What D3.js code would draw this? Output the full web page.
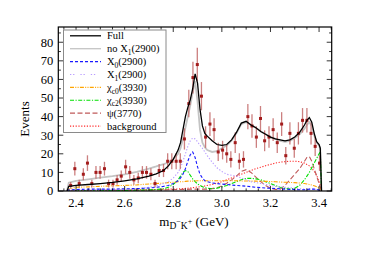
<!DOCTYPE html>
<html><head><meta charset="utf-8">
<script src="https://cdn.jsdelivr.net/npm/d3@7"></script>
<style>body{margin:0;background:#fff}svg{display:block}text{font-family:"Liberation Serif","Times New Roman",serif;fill:#000}</style>
</head><body><svg id="c" width="390" height="273"></svg>
<script>
const binMass = [2.378,2.395,2.413,2.430,2.447,2.465,2.482,2.499,2.517,2.534,2.552,2.569,2.586,2.604,2.621,2.638,2.656,2.673,2.690,2.708,2.725,2.742,2.760,2.777,2.794,2.812,2.829,2.846,2.864,2.881,2.899,2.916,2.933,2.951,2.968,2.985,3.003,3.020,3.037,3.055,3.072,3.089,3.107,3.124,3.142,3.159,3.176,3.194,3.211,3.228,3.246,3.263,3.280,3.298,3.315,3.332,3.350,3.367,3.384,3.402];
const counts = [3,12,4,9,15,4,10,10,12,4,4,6,8,13,10,6,7,10,10,9,4,11,11,16,16,16,16,28,47,61,68,51,29,36,33,21,22,20,17,26,16,17,40,35,29,39,27,29,33,26,36,19,31,23,31,38,38,31,24,15];
const errs = [1.8,3.7,2.1,3.2,4.2,2.1,3.4,3.4,3.7,2.1,2.1,2.6,3,3.8,3.4,2.6,2.8,3.4,3.4,3.2,2.1,3.5,3.5,4.3,4.3,4.3,4.3,5.7,7.4,8.5,9,7.6,5.8,6.4,6.1,4.9,5,4.8,4.4,5.5,4.3,4.4,6.8,6.3,5.8,6.7,5.6,5.8,6.1,5.5,6.4,4.7,6,5.1,6,6.6,6.6,6,5.2,4.2];

const curveMass = [2.363,2.37,2.40,2.45,2.50,2.55,2.60,2.65,2.70,2.73,2.76,2.78,2.80,2.82,2.83,2.84,2.85,2.86,2.87,2.88,2.89,2.90,2.91,2.92,2.93,2.94,2.96,2.98,3.00,3.02,3.04,3.06,3.08,3.10,3.12,3.14,3.16,3.18,3.20,3.22,3.24,3.26,3.28,3.30,3.32,3.34,3.35,3.36,3.37,3.38,3.39,3.40,3.405,3.41];
const fullFit = [0,2.5,3,3.5,4,4.6,5.5,6.5,8,9.2,11,13.5,17,22,26,33,40,45,49,55,63,58,44,35,31,29.5,27,25,24.5,25,27.5,31.5,36.5,37.5,35.5,34,32,30.5,29,28,27.5,27,27.5,29,31.5,35.5,38,39.5,37,31,26.5,25,23,0];
const noX1 = [0,4.5,5.5,6.3,7.2,8,9,10.3,12,13.2,14.5,15.3,17,20,23,28,34,40,46,53,59,48,33,26,23.5,22,21,21.5,23,24.5,27,31,36,37,35.5,34,32,30.5,29,28,27,26.5,27,28.5,30.5,33.5,35.5,37,35,30,26,24.5,22.5,0];
const x0_2900 = [0,0.6,0.8,1,1,1,1.2,1.3,1.6,2,2.5,3,4,5.5,7,9,12,16,19.5,21,18,13,9,7,5.5,5,4.3,4,3.7,3.5,3.2,3,2.8,2.6,2.3,2,1.8,1.6,1.5,1.3,1.2,1,0.9,0.8,0.7,0.7,0.8,1,1,1,0.8,0.5,0.3,0];
const x1_2900 = [0,0.3,0.3,0.4,0.5,0.6,0.8,1.2,2,2.8,4,5,7,10,12.5,16,20,24,27,28.5,28,26.5,24.5,23,21,19,15.5,12.5,10.5,9,8.5,8,7,6,5,4.5,4,3.5,3,2.5,2.2,2,1.8,1.5,1.2,1,1,1,1,1,0.8,0.5,0.3,0];
const chic0 = [0,1,2,2.2,2.5,2.8,3,3.3,3.8,4,4.3,4.5,4.7,5,5,5,5.2,5.3,5.3,5.3,5.4,5.5,5.5,5.5,5.5,5.5,5.5,5.5,5.5,5.5,5.5,5.5,5.4,5.4,5.3,5.3,5.2,5.2,5.1,5,4.8,4.7,4.6,4.5,4.3,4,3.8,3.5,3.2,2.8,2.3,1.5,1,0];
const chic2 = [0,0,0.1,0.1,0.2,0.2,0.3,0.4,0.6,0.8,1.2,2,3.5,6,8,10,11,10.5,8.5,6.5,5,3.8,3,2.3,1.8,1.5,1.2,1.5,2.2,3,4,5,6,6.8,6.8,6.5,6,5,4,3,2,1.4,1,1.5,3,6,8,10,12.5,15,17.5,20,21,0];
const psi3770 = [0,0.2,0.2,0.3,0.3,0.4,0.4,0.5,0.5,0.6,0.6,0.7,0.8,0.8,0.8,0.9,0.9,0.9,1,1,1,1,1,1,1,1,1.3,1.8,2.8,4.2,6,8,10.5,11.5,10,7.5,5,3,1.5,0.8,1,3,6,9,12,16,18,18.5,16,12,8,4,2,0];
const bkg = [0,0.2,0.3,0.3,0.4,0.4,0.5,0.6,0.7,0.8,0.9,1,1,1.1,1.2,1.3,1.4,1.5,1.6,1.8,2,2.1,2.3,2.5,2.7,3,3.5,4.2,5,6,7,8,9,10,11,12,12.8,13.6,14.3,15,15.5,15.8,16,16,15.8,15,14.3,13.5,12.3,10.5,8.5,5,3,0];

const xTicks = [2.4,2.6,2.8,3.0,3.2,3.4];
const yTicks = [0,10,20,30,40,50,60,70,80];

const svg = d3.select("#c");
const L=58.3, R=331.7, T=27, B=191;
const x = d3.scaleLinear().domain([2.327,3.452]).range([L,R]);
const y = d3.scaleLinear().domain([0,88.2]).range([B,T]);

const series = [
  {name:"no X1", vals:noX1, color:"#c4c4c4", w:1.8, dash:null},
  {name:"bkg", vals:bkg, color:"#ff2a2a", w:1.1, dash:"1.2,1.6"},
  {name:"psi", vals:psi3770, color:"#c05a5a", w:1.1, dash:"5,2.5"},
  {name:"chic2", vals:chic2, color:"#00e000", w:1.1, dash:"4,1.5,1.2,1.5"},
  {name:"chic0", vals:chic0, color:"#ffa500", w:1.1, dash:"4,1.3,1,1.3,1,1.3"},
  {name:"x1", vals:x1_2900, color:"#b89cff", w:1.1, dash:"1.3,1.8"},
  {name:"x0", vals:x0_2900, color:"#1a1aff", w:1.1, dash:"3,2"},
];
const clip = svg.append("clipPath").attr("id","pc").append("rect").attr("x",L).attr("y",T).attr("width",R-L).attr("height",B-T);
const g = svg.append("g").attr("clip-path","url(#pc)");
const line = vals => d3.line().x((d,i)=>x(curveMass[i])).y(d=>y(d))(vals);
series.forEach(s=>{
  g.append("path").attr("d",line(s.vals)).attr("fill","none").attr("stroke",s.color)
   .attr("stroke-width",s.w).attr("stroke-dasharray",s.dash);
});
// data
const pts = g.append("g");
binMass.forEach((m,i)=>{
  pts.append("line").attr("x1",x(m)).attr("x2",x(m)).attr("y1",y(counts[i]-errs[i])).attr("y2",y(counts[i]+errs[i]))
    .attr("stroke","#c46a6a").attr("stroke-width",1.3).attr("opacity",0.85);
});
g.append("path").attr("d",line(fullFit)).attr("fill","none").attr("stroke","#000").attr("stroke-width",1.3);
binMass.forEach((m,i)=>{
  pts.append("rect").attr("x",x(m)-1.5).attr("y",y(counts[i])-1.5).attr("width",3).attr("height",3).attr("fill","#a31c1c");
});
// frame
svg.append("rect").attr("x",L).attr("y",T).attr("width",R-L).attr("height",B-T).attr("fill","none").attr("stroke","#000").attr("stroke-width",1.2);
// ticks
const tk = svg.append("g").attr("stroke","#000").attr("stroke-width",0.8);
d3.range(47,70).map(v=>v*0.05).forEach(v=>{
  if(v<2.327||v>3.452) return;
  const major = Math.abs((v*10)%2)<1e-6 || Math.abs((v*10)%2-2)<1e-6;
  const len = major?5:2.6;
  tk.append("line").attr("x1",x(v)).attr("x2",x(v)).attr("y1",B).attr("y2",B-len);
  tk.append("line").attr("x1",x(v)).attr("x2",x(v)).attr("y1",T).attr("y2",T+len);
});
d3.range(0,18).map(v=>v*5).forEach(v=>{
  const len = v%10===0?5:2.6;
  tk.append("line").attr("x1",L).attr("x2",L+len).attr("y1",y(v)).attr("y2",y(v));
  tk.append("line").attr("x1",R).attr("x2",R-len).attr("y1",y(v)).attr("y2",y(v));
});
xTicks.forEach(v=>svg.append("text").attr("x",x(v)).attr("y",B+16).attr("text-anchor","middle").attr("font-size",12.5).text(v.toFixed(1)));
yTicks.forEach(v=>svg.append("text").attr("x",L-5).attr("y",y(v)+4.3).attr("text-anchor","end").attr("font-size",12.5).text(v));
// axis titles
svg.append("text").attr("transform",`translate(29,${(T+B)/2+10}) rotate(-90)`).attr("text-anchor","middle").attr("font-size",13).text("Events");
const xt = svg.append("text").attr("x",194).attr("y",226).attr("text-anchor","middle").attr("font-size",13);
xt.append("tspan").text("m");
xt.append("tspan").attr("font-size",9.5).attr("dy",3).text("D");
xt.append("tspan").attr("font-size",8).attr("dy",-5).text("−");
xt.append("tspan").attr("font-size",9.5).attr("dy",5).text("K");
xt.append("tspan").attr("font-size",8).attr("dy",-5).text("+");
xt.append("tspan").attr("dy",2).text(" (GeV)");
// legend
const lg = svg.append("g");
lg.append("rect").attr("x",63.5).attr("y",30).attr("width",102.5).attr("height",102.5).attr("fill","#fff").attr("stroke","#8a8a8a").attr("stroke-width",1);
const legendItems = [
  {parts:[["Full"]], color:"#000", w:1.3, dash:null},
  {parts:[["no X"],["1","sub"],["(2900)"]], color:"#c4c4c4", w:1.3, dash:null},
  {parts:[["X"],["0","sub"],["(2900)"]], color:"#1a1aff", w:1.1, dash:"3,2"},
  {parts:[["X"],["1","sub"],["(2900)"]], color:"#b89cff", w:1.1, dash:"1.3,1.8,1.3,6"},
  {parts:[["χ"],["c0","sub"],["(3930)"]], color:"#ffa500", w:1.1, dash:"4,1.3,1,1.3,1,1.3"},
  {parts:[["χ"],["c2","sub"],["(3930)"]], color:"#00e000", w:1.1, dash:"4,1.5,1.2,1.5"},
  {parts:[["ψ(3770)"]], color:"#c05a5a", w:1.3, dash:"5,2.5"},
  {parts:[["background"]], color:"#ff2a2a", w:1.1, dash:"1.2,1.6"},
];
legendItems.forEach((it,i)=>{
  const yy = 35.8 + i*12.9;
  lg.append("line").attr("x1",70).attr("x2",101).attr("y1",yy).attr("y2",yy).attr("stroke",it.color).attr("stroke-width",it.w).attr("stroke-dasharray",it.dash);
  const t = lg.append("text").attr("x",107).attr("y",yy+3.6).attr("font-size",10.5);
  let sub=false;
  it.parts.forEach(p=>{
    const ts = t.append("tspan").text(p[0]);
    if(p[1]==="sub"){ ts.attr("font-size",7.5).attr("dy",2.5); sub=true; }
    else if(sub){ ts.attr("dy",-2.5); sub=false; }
  });
});
</script></body></html>
